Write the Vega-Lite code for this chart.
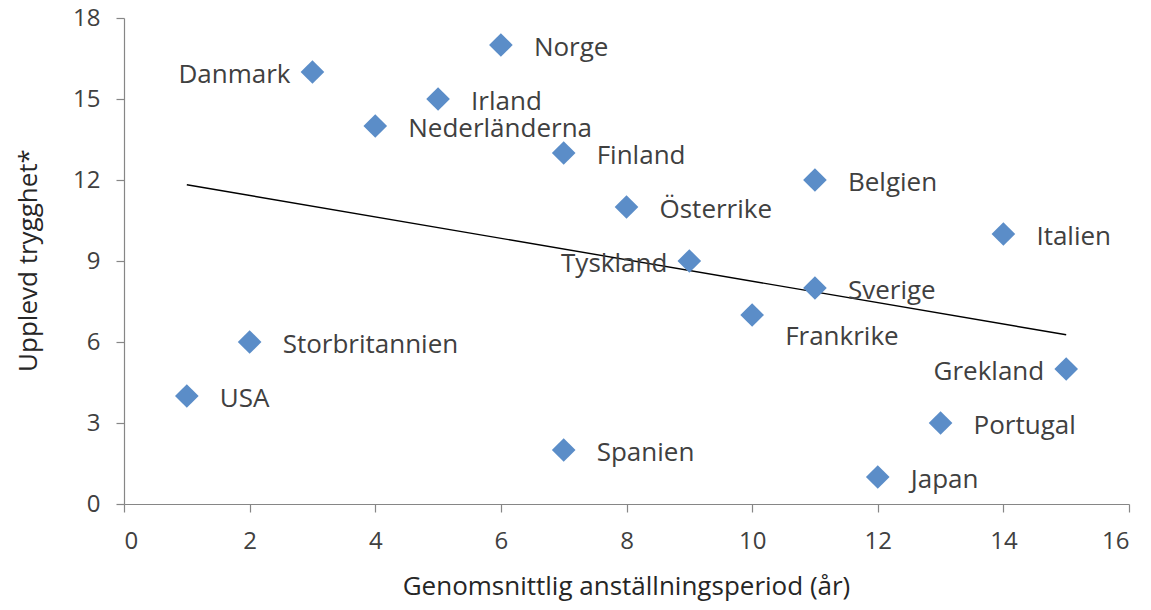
{
  "$schema": "https://vega.github.io/schema/vega-lite/v6.json",
  "width": 1005,
  "height": 486,
  "autosize": "none",
  "padding": {"left": 124, "top": 18, "right": 22, "bottom": 106},
  "background": "white",
  "config": {
    "view": {"stroke": null},
    "font": "Open Sans",
    "axis": {
      "grid": false,
      "domainColor": "#868686",
      "tickColor": "#868686",
      "domainWidth": 1.2,
      "tickWidth": 1.2,
      "tickSize": 8,
      "labelFont": "Open Sans",
      "labelFontSize": 24,
      "labelColor": "#404040",
      "titleFont": "Open Sans",
      "titleFontSize": 26,
      "titleFontWeight": "normal",
      "titleColor": "#262626"
    }
  },
  "data": {
    "values": [
      {"land": "USA", "x": 1, "y": 4, "pos": "right"},
      {"land": "Storbritannien", "x": 2, "y": 6, "pos": "right"},
      {"land": "Danmark", "x": 3, "y": 16, "pos": "left"},
      {"land": "Nederländerna", "x": 4, "y": 14, "pos": "right"},
      {"land": "Irland", "x": 5, "y": 15, "pos": "right"},
      {"land": "Norge", "x": 6, "y": 17, "pos": "right"},
      {"land": "Finland", "x": 7, "y": 13, "pos": "right"},
      {"land": "Spanien", "x": 7, "y": 2, "pos": "right"},
      {"land": "Österrike", "x": 8, "y": 11, "pos": "right"},
      {"land": "Tyskland", "x": 9, "y": 9, "pos": "left"},
      {"land": "Frankrike", "x": 10, "y": 7, "pos": "below"},
      {"land": "Belgien", "x": 11, "y": 12, "pos": "right"},
      {"land": "Sverige", "x": 11, "y": 8, "pos": "right"},
      {"land": "Japan", "x": 12, "y": 1, "pos": "right"},
      {"land": "Portugal", "x": 13, "y": 3, "pos": "right"},
      {"land": "Italien", "x": 14, "y": 10, "pos": "right"},
      {"land": "Grekland", "x": 15, "y": 5, "pos": "left"}
    ]
  },
  "encoding": {
    "x": {
      "field": "x", "type": "quantitative",
      "scale": {"domain": [0, 16], "nice": false, "zero": false},
      "axis": {"values": [0, 2, 4, 6, 8, 10, 12, 14, 16], "labelPadding": 17, "title": "Genomsnittlig anställningsperiod (år)", "titleX": 502, "titleY": 82, "titleAlign": "center", "titleBaseline": "middle"}
    },
    "y": {
      "field": "y", "type": "quantitative",
      "scale": {"domain": [0, 18], "nice": false},
      "axis": {"values": [0, 3, 6, 9, 12, 15, 18], "labelPadding": 16, "title": "Upplevd trygghet*", "titleX": -96, "titleY": 242, "titleAngle": -90, "titleAlign": "center", "titleBaseline": "middle"}
    }
  },
  "layer": [
    {
      "transform": [{"regression": "y", "on": "x"}],
      "mark": {"type": "line", "color": "black", "strokeWidth": 1.4}
    },
    {
      "mark": {"type": "point", "shape": "diamond", "filled": true, "size": 560, "color": "#5B8DC8", "opacity": 1}
    },
    {
      "transform": [{"filter": "datum.pos == 'right'"}],
      "mark": {"type": "text", "align": "left", "baseline": "middle", "dx": 33, "dy": 3, "fontSize": 26, "color": "#404040"},
      "encoding": {"text": {"field": "land"}}
    },
    {
      "transform": [{"filter": "datum.pos == 'left'"}],
      "mark": {"type": "text", "align": "right", "baseline": "middle", "dx": -22, "dy": 3, "fontSize": 26, "color": "#404040"},
      "encoding": {"text": {"field": "land"}}
    },
    {
      "transform": [{"filter": "datum.pos == 'below'"}],
      "mark": {"type": "text", "align": "left", "baseline": "middle", "dx": 33, "dy": 22, "fontSize": 26, "color": "#404040"},
      "encoding": {"text": {"field": "land"}}
    }
  ]
}
